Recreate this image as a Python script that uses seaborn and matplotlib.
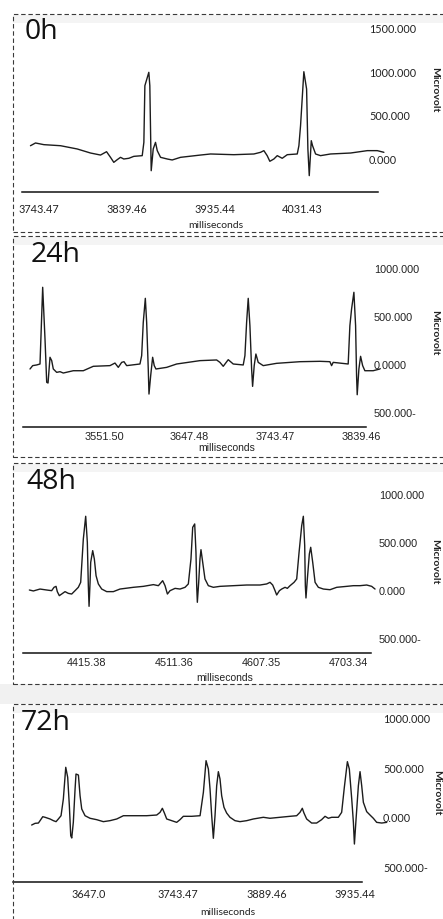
import numpy as np
import pandas as pd
import matplotlib
matplotlib.use("Agg")
import matplotlib.pyplot as plt
import seaborn as sns
from matplotlib.patches import Rectangle

sns.set_theme(style="white")
plt.rcParams['font.family'] = ['Liberation Sans', 'DejaVu Sans']

# ---------------- data ----------------
panel_labels = ["0h", "24h", "48h", "72h"]

t_0h = [3734.7, 3740.2, 3749.3, 3767.5, 3785.7, 3800.2, 3811.1, 3817.7, 3822.0, 3825.6,
        3829.3, 3832.9, 3836.5, 3842.0, 3847.4, 3856.6, 3858.4, 3859.5, 3863.8, 3864.9,
        3866.4, 3868.6, 3871.1, 3873.0, 3876.6, 3883.9, 3889.3, 3898.4, 3920.2, 3931.1,
        3956.5, 3978.4, 3985.7, 3989.3, 3992.9, 3995.8, 4000.2, 4003.9, 4009.3, 4014.8,
        4025.7, 4027.5, 4029.3, 4032.9, 4035.9, 4037.3, 4038.8, 4041.0, 4042.4, 4045.7,
        4051.1, 4062.0, 4083.9, 4102.1, 4113.0, 4120.2]
v_0h = [151, 182, 163, 151, 114, 68, 45, 83, 19, -38,
        -8, 19, 0, 8, 30, 38, 189, 833, 985, 833,
        -133, 114, 189, 95, 19, 0, -11, 19, 45, 57,
        49, 57, 76, 95, 38, -26, 0, 38, 8, 49,
        57, 151, 379, 992, 795, 114, -189, 208, 151, 57,
        38, 57, 68, 95, 95, 76]

t_24h = [3468.6, 3471.6, 3476.1, 3479.8, 3482.8, 3485.4, 3487.3, 3488.8, 3491.0, 3492.9,
         3494.7, 3498.5, 3502.2, 3505.9, 3517.1, 3528.3, 3539.5, 3558.2, 3563.8, 3567.5,
         3571.3, 3573.9, 3576.9, 3591.8, 3593.7, 3595.5, 3597.8, 3599.3, 3601.1, 3601.9,
         3603.8, 3606.0, 3607.8, 3609.7, 3621.7, 3632.9, 3659.0, 3677.7, 3681.4, 3685.1,
         3690.7, 3696.3, 3707.5, 3709.4, 3711.3, 3713.1, 3715.0, 3716.9, 3718.0, 3719.8,
         3721.7, 3724.3, 3729.9, 3744.9, 3771.0, 3793.4, 3804.6, 3806.5, 3808.3, 3825.1,
         3827.0, 3828.9, 3831.5, 3833.4, 3834.5, 3835.2, 3837.1, 3839.0, 3841.3, 3843.8,
         3853.1, 3860.6]
v_24h = [-52, -17, -10, 0, 799, 260, -191, -198, 70, 35,
         -52, -87, -80, -94, -70, -70, -24, -17, 10, -35,
         17, 24, -17, 0, 87, 434, 684, 434, -52, -313,
         -122, 70, -17, -52, -35, 0, 35, 42, 17, -24,
         45, 0, -10, 87, 434, 684, 399, -52, -233, -17,
         104, 17, -17, 7, 24, 28, 24, -17, 17, 0,
         399, 573, 747, 399, -122, -320, -52, 80, -17, -70,
         -70, -52]

t_48h = [4352.6, 4357.0, 4364.3, 4371.6, 4377.1, 4379.7, 4381.9, 4383.3, 4385.5, 4388.1,
         4391.8, 4395.4, 4399.1, 4402.8, 4406.4, 4409.0, 4411.9, 4414.5, 4416.3, 4417.4,
         4418.2, 4419.3, 4420.0, 4422.2, 4424.0, 4425.9, 4428.4, 4432.1, 4437.6, 4444.9,
         4452.2, 4466.9, 4477.9, 4488.9, 4494.4, 4499.1, 4501.7, 4504.3, 4507.2, 4512.7,
         4518.2, 4523.7, 4527.3, 4530.2, 4532.1, 4534.3, 4535.7, 4536.5, 4537.2, 4538.7,
         4540.1, 4541.2, 4543.1, 4545.6, 4549.3, 4554.8, 4562.1, 4576.8, 4591.4, 4606.1,
         4613.4, 4617.1, 4620.0, 4622.6, 4624.4, 4627.4, 4629.9, 4633.6, 4636.1, 4639.1,
         4643.5, 4646.4, 4649.0, 4651.9, 4653.7, 4655.2, 4655.9, 4656.6, 4658.1, 4660.3,
         4661.8, 4664.0, 4666.6, 4670.2, 4675.7, 4683.0, 4690.4, 4701.4, 4708.7, 4716.0,
         4723.3, 4728.8, 4732.5]
v_48h = [0, -10, 10, 0, -7, 28, 38, -17, -59, -42,
         -17, -35, -42, -7, 28, 80, 531, 768, 497, 45,
         -170, 80, 288, 410, 323, 149, 63, 10, -17, -17,
         10, 28, 38, 56, 45, 97, 45, -42, -7, 17,
         10, 28, 63, 323, 653, 688, 392, 45, -128, 80,
         323, 420, 288, 115, 45, 28, 38, 45, 52, 52,
         63, 80, 52, -7, -52, -7, 10, 28, 17, 45,
         80, 115, 392, 670, 768, 462, 45, -83, 115, 375,
         445, 288, 80, 28, 10, 3, 28, 38, 45, 45,
         52, 38, 10]

t_72h = [3585.4, 3589.1, 3592.7, 3594.5, 3597.4, 3599.9, 3605.3, 3608.9, 3611.8, 3614.3,
         3617.2, 3619.7, 3622.3, 3624.4, 3626.2, 3627.7, 3628.8, 3630.5, 3632.4, 3633.4,
         3636.0, 3637.8, 3639.6, 3643.2, 3648.6, 3655.8, 3663.0, 3670.2, 3677.5, 3684.7,
         3695.5, 3709.9, 3720.8, 3724.4, 3726.9, 3729.1, 3731.6, 3737.0, 3742.4, 3746.0,
         3749.6, 3758.7, 3767.7, 3771.3, 3774.2, 3776.7, 3778.5, 3780.3, 3782.1, 3783.9,
         3785.7, 3787.5, 3789.3, 3791.1, 3793.6, 3796.5, 3800.1, 3805.5, 3810.9, 3818.2,
         3825.4, 3836.2, 3843.4, 3854.2, 3865.1, 3872.3, 3875.9, 3878.4, 3880.2, 3883.1,
         3888.5, 3893.9, 3899.3, 3903.0, 3906.6, 3910.2, 3917.4, 3921.0, 3923.9, 3927.2,
         3929.3, 3931.9, 3933.7, 3934.8, 3936.6, 3939.1, 3940.9, 3942.7, 3944.5, 3948.1,
         3951.7, 3955.3, 3958.9, 3964.4, 3969.8]
v_72h = [-81, -64, -61, -37, 3, -3, -20, -37, -47, -20,
         13, 182, 502, 401, 114, -189, -212, -54, 283, 434,
         424, 215, 81, 13, -13, -27, -47, -37, -20, 13,
         13, 13, 20, 47, 88, 40, -20, -37, -54, -27,
         7, 7, 13, 249, 569, 485, 283, 13, -215, 13,
         316, 458, 384, 215, 98, 40, -3, -37, -47, -37,
         -20, -3, -13, -3, 7, 13, 47, 88, 40, -20,
         -61, -61, -27, 7, -13, -3, -3, 47, 300, 559,
         485, 182, -54, -273, -20, 316, 458, 316, 148, 54,
         20, -13, -54, -61, -54]

xtick_vals_0h = [3743.47, 3839.46, 3935.44, 4031.43]
xtick_lbl_0h = ["3743.47", "3839.46", "3935.44", "4031.43"]
xtick_vals_24h = [3551.50, 3647.48, 3743.47, 3839.46]
xtick_lbl_24h = ["3551.50", "3647.48", "3743.47", "3839.46"]
xtick_vals_48h = [4415.38, 4511.36, 4607.35, 4703.34]
xtick_lbl_48h = ["4415.38", "4511.36", "4607.35", "4703.34"]
xtick_vals_72h = [3647.48, 3743.47, 3839.46, 3935.44]
xtick_lbl_72h = ["3647.0", "3743.47", "3889.46", "3935.44"]

ytick_vals_0h = [0, 500, 1000, 1500]
ytick_lbl_0h = ["0.000", "500.000", "1000.000", "1500.000"]
ytick_vals_24h = [-500, 0, 500, 1000]
ytick_lbl_24h = ["500.000-", "0.0000", "500.000", "1000.000"]
ytick_vals_48h = [-500, 0, 500, 1000]
ytick_lbl_48h = ["500.000-", "0.000", "500.000", "1000.000"]
ytick_vals_72h = [-500, 0, 500, 1000]
ytick_lbl_72h = ["500.000-", "0.000", "500.000", "1000.000"]

# ---------------- layout (pixels) ----------------
W, H = 443, 920
fig = plt.figure(figsize=(W / 100, H / 100), dpi=100)
fig.patch.set_facecolor("white")

def fx(px):
    return px / W

def fy(py):
    return 1 - py / H

# light grey bands and dashed boxes
grey = "#f1f1f1"
fig.patches.append(Rectangle((fx(0), fy(705)), 1, (705 - 685) / H, transform=fig.transFigure,
                             facecolor=grey, edgecolor="none", zorder=0))
boxes = [(15, 233), (237, 458), (464, 685), (705, 935)]
for top, bot in boxes:
    fig.patches.append(Rectangle((fx(13), fy(top + 9)), fx(450 - 13), 8 / H, transform=fig.transFigure,
                                 facecolor="#f4f4f4", edgecolor="none", zorder=0))
    fig.patches.append(Rectangle((fx(12.5), fy(bot)), fx(460 - 12.5), (bot - top) / H,
                                 transform=fig.transFigure, fill=False, edgecolor="#3a3a3a",
                                 linewidth=0.8, linestyle=(0, (4, 2.5)), zorder=1))

panels = [
    dict(label=panel_labels[0], t=t_0h, v=v_0h, axx=(22, 386), axy=(20, 193), spine=(22, 378),
         xfit=(170.5, 3887.45, 0.9168), yzero=160, ppu=44 / 500,
         xt=xtick_vals_0h, xl=xtick_lbl_0h, yt=ytick_vals_0h, yl=ytick_lbl_0h,
         ylab_left=369, xlab_c=209, lbl=(25, 39), ms=(216, 225), mv=(435, 90), tfont="Lato"),
    dict(label=panel_labels[1], t=t_24h, v=v_24h, axx=(23, 386), axy=(245, 428), spine=(23, 366),
         xfit=(232.5, 3695.48, 0.8925), yzero=365, ppu=48 / 500,
         xt=xtick_vals_24h, xl=xtick_lbl_24h, yt=ytick_vals_24h, yl=ytick_lbl_24h,
         ylab_left=374, xlab_c=437, lbl=(31, 262), ms=(227, 448), mv=(435, 333), tfont="Liberation Sans"),
    dict(label=panel_labels[2], t=t_48h, v=v_48h, axx=(23, 386), axy=(470, 654), spine=(23, 371),
         xfit=(217.5, 4559.36, 0.9099), yzero=591, ppu=48 / 500,
         xt=xtick_vals_48h, xl=xtick_lbl_48h, yt=ytick_vals_48h, yl=ytick_lbl_48h,
         ylab_left=379, xlab_c=663, lbl=(26, 489), ms=(225, 678), mv=(435, 562), tfont="Liberation Sans"),
    dict(label=panel_labels[3], t=t_72h, v=v_72h, axx=(13, 390), axy=(712, 883), spine=(13, 362),
         xfit=(222.0, 3791.46, 0.9237), yzero=818, ppu=49.5 / 500,
         xt=xtick_vals_72h, xl=xtick_lbl_72h, yt=ytick_vals_72h, yl=ytick_lbl_72h,
         ylab_left=383, xlab_c=894, lbl=(21, 730), ms=(228, 913), mv=(437, 793), tfont="Lato"),
]

for p in panels:
    l, r = p["axx"]
    top, bot = p["axy"]
    ax = fig.add_axes([fx(l), fy(bot), (r - l) / W, (bot - top) / H])
    ax.set_facecolor("none")
    df = pd.DataFrame({"ms": p["t"], "uV": p["v"]})
    sns.lineplot(data=df, x="ms", y="uV", ax=ax, color="#1c1c1c", linewidth=1.0,
                 sort=False, estimator=None)
    for ln in ax.lines:
        ln.set_clip_on(False)
    mpx, mms, slope = p["xfit"]
    ax.set_xlim(mms + (l - mpx) / slope, mms + (r - mpx) / slope)
    ax.set_ylim((p["yzero"] - bot) / p["ppu"], (p["yzero"] - top) / p["ppu"])
    for s in ["top", "left", "right"]:
        ax.spines[s].set_visible(False)
    sp = ax.spines["bottom"]
    sp.set_visible(True)
    sp.set_color("#111111")
    sp.set_linewidth(1.1)
    sp.set_bounds(mms + (p["spine"][0] - mpx) / slope, mms + (p["spine"][1] - mpx) / slope)

    ax.set_xticks(p["xt"])
    ax.set_xticklabels(p["xl"], fontsize=7.8, family=p["tfont"], color="#222222")
    ax.tick_params(axis="x", length=0, pad=(p["xlab_c"] - bot - 5) * 0.72)
    ax.yaxis.tick_right()
    ax.set_yticks(p["yt"])
    ax.set_yticklabels(p["yl"], fontsize=7.8, family=p["tfont"], color="#222222")
    ax.tick_params(axis="y", length=0, pad=(p["ylab_left"] - r) * 0.72)

    ax.set_xlabel("milliseconds", fontsize=7.5, family=p["tfont"], color="#222222")
    ax.xaxis.set_label_coords((p["ms"][0] - l) / (r - l), (bot - p["ms"][1]) / (bot - top))
    ax.xaxis.label.set_va("center")
    ax.yaxis.set_label_position("right")
    ax.set_ylabel("Microvolt", fontsize=7.5, fontweight="bold", family="Lato",
                  color="#222222", rotation=270)
    ax.yaxis.set_label_coords((p["mv"][0] - l) / (r - l), (bot - p["mv"][1]) / (bot - top))
    ax.yaxis.label.set_va("center")
    ax.yaxis.label.set_ha("center")

    fig.text(fx(p["lbl"][0]), fy(p["lbl"][1]), p["label"], fontsize=20.5, family="Open Sans",
             color="#111111", ha="left", va="baseline")

fig.savefig("out.png", dpi=100, facecolor="white")
